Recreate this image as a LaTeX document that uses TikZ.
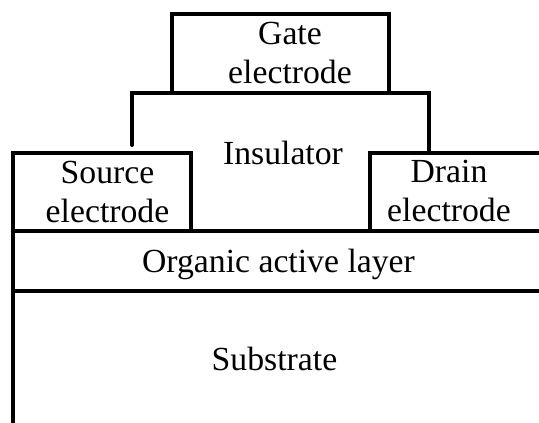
\documentclass[tikz,border=0pt]{standalone}
\usepackage{fontspec}
\setmainfont{Liberation Serif}
\tikzset{
    layer/.style={line width=3pt, line join=miter},
    label/.style={align=center, inner sep=0pt, font=\fontsize{25.3}{29.8}\selectfont},
}
\begin{document}
\begin{tikzpicture}[x=0.75pt, y=-0.75pt]
    \useasboundingbox (0, 0) rectangle (539, 423);
    % Draw layers
    \coordinate (gtl) at (172, 14);
    \coordinate (gtr) at (389, 14);
    \coordinate (gbl) at (172, 93);
    \coordinate (gbr) at (389, 93);
    \coordinate (itl) at (132, 93);
    \coordinate (itr) at (429, 93);
    \coordinate (ibl) at (132, 145);
    \coordinate (ibr) at (429, 153);
    \coordinate (stl) at (13, 153);
    \coordinate (str) at (191, 153);
    \coordinate (sbr) at (191, 231);
    \coordinate (dtl) at (370, 153);
    \coordinate (dtr) at (539, 153);
    \coordinate (dbl) at (370, 231);
    \coordinate (abl) at (13, 231);
    \coordinate (abr) at (539, 231);
    \coordinate (sul) at (13, 291);
    \coordinate (sur) at (539, 291);
    \coordinate (sue) at (13, 423);
    \draw [layer] (gbl) -- (gtl) -- (gtr) -- (gbr);
    \draw [layer, line cap=round] (ibl) -- (itl) -- (itr) -- (ibr);
    \draw [layer] (sue) -- (stl) -- (str) -- (sbr);
    \draw [layer] (dbl) -- (dtl) -- (dtr);
    \draw [layer] (abl) -- (abr);
    \draw [layer] (sul) -- (sur);

    \node [label] (lg) at (290, 53) {Gate\\electrode};
    \node [label] (li) at (283, 153) {Insulator};
    \node [label] (ls) at (107.5, 192) {Source\\electrode};
    \node [label] (ld) at (449, 191) {Drain\\electrode};
    \node [label] (la) at (278.5, 264.5) {Organic active layer};
    \node [label] (lu) at (274.5, 359) {Substrate};
\end{tikzpicture}
\end{document}
